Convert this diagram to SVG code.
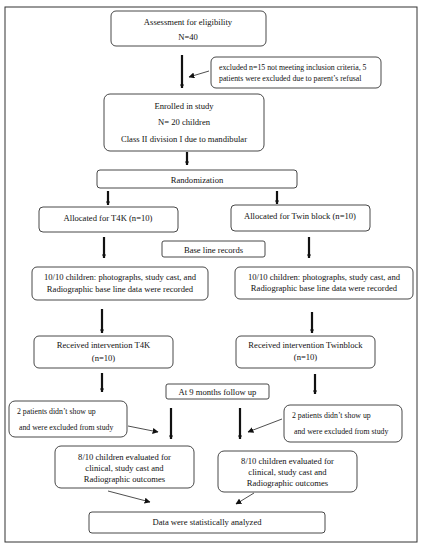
<svg xmlns="http://www.w3.org/2000/svg" width="424" height="550" viewBox="0 0 424 550">
<defs>
<marker id="ah" viewBox="0 0 10 10" refX="9" refY="5" markerWidth="6" markerHeight="6" orient="auto" markerUnits="userSpaceOnUse"><path d="M0,0 L10,5 L0,10 z" fill="#111"/></marker>
<marker id="ahs" viewBox="0 0 10 10" refX="9" refY="5" markerWidth="4" markerHeight="4" orient="auto" markerUnits="userSpaceOnUse"><path d="M0,0 L10,5 L0,10 z" fill="#111"/></marker>
</defs>
<style>
.b{fill:#fff;stroke:#333;stroke-width:0.9}
.t{font-family:"Liberation Serif","Times New Roman",serif;font-size:8.6px;fill:#111;text-anchor:middle}
.tl{font-family:"Liberation Serif","Times New Roman",serif;font-size:7.8px;fill:#111}
.v{stroke:#111;stroke-width:2.2;fill:none;marker-end:url(#ahs)}
.d{stroke:#222;stroke-width:0.8;fill:none;marker-end:url(#ah)}
</style>
<rect x="0" y="0" width="424" height="550" fill="#fff"/>
<rect x="5" y="7" width="412" height="535" fill="none" stroke="#333" stroke-width="1"/>
<g id="connectors">
<line class="v" x1="182" y1="55" x2="182" y2="88"/>
<line class="d" x1="209" y1="71" x2="189" y2="77"/>
<line class="v" x1="187" y1="152" x2="187" y2="165"/>
<line class="v" x1="108" y1="191" x2="108" y2="205"/>
<line class="v" x1="277" y1="191" x2="277" y2="204"/>
<line class="v" x1="104" y1="237" x2="104" y2="258"/>
<line class="v" x1="309" y1="237" x2="309" y2="258"/>
<line class="v" x1="102" y1="309" x2="102" y2="333"/>
<line class="v" x1="312" y1="312" x2="312" y2="333"/>
<line class="v" x1="102" y1="373" x2="102" y2="392"/>
<line class="v" x1="315" y1="374" x2="315" y2="394"/>
<line class="v" x1="171" y1="408" x2="171" y2="439"/>
<line class="v" x1="240" y1="408" x2="240" y2="439"/>
<line class="d" x1="128" y1="426" x2="158" y2="432"/>
<line class="d" x1="282" y1="419" x2="248" y2="432"/>
<line class="d" x1="108" y1="491" x2="150" y2="502"/>
<line class="d" x1="254" y1="493" x2="236" y2="504"/>
</g>
<g id="assessment"><rect class="b" x="111" y="11" width="155" height="35" rx="5"/><text class="t" x="188" y="24.5">Assessment for eligibility</text><text class="t" x="188" y="40">N=40</text></g>
<g id="excluded"><rect class="b" x="211" y="57" width="170" height="31" rx="5"/><text class="tl" x="219" y="70">excluded n=15 not meeting inclusion criteria, 5</text><text class="tl" x="219" y="80.5">patients were excluded due to parent’s refusal</text></g>
<g id="enrolled"><rect class="b" x="104" y="94" width="160" height="57" rx="6"/><text class="t" x="184" y="109">Enrolled in study</text><text class="t" x="184" y="125">N= 20 children</text><text class="t" x="184" y="141.5">Class II division I due to mandibular</text></g>
<g id="randomization"><rect class="b" x="97" y="170" width="200" height="18" rx="3"/><text class="t" x="197" y="182.5">Randomization</text></g>
<g id="alloc-t4k"><rect class="b" x="39" y="207" width="139" height="25" rx="4"/><text class="t" x="108" y="220.5">Allocated for T4K (n=10)</text></g>
<g id="alloc-twin"><rect class="b" x="231" y="205" width="139" height="26" rx="4"/><text class="t" x="300" y="218.5">Allocated for Twin block (n=10)</text></g>
<g id="baseline"><rect class="b" x="162" y="241" width="103" height="16" rx="2"/><text class="t" x="213.5" y="252.5">Base line records</text></g>
<g id="records-left"><rect class="b" x="32" y="267" width="176" height="33" rx="5"/><text class="t" x="120" y="280">10/10 children: photographs, study cast, and</text><text class="t" x="120" y="291.5">Radiographic base line data were recorded</text></g>
<g id="records-right"><rect class="b" x="235" y="267" width="178" height="32" rx="5"/><text class="t" x="324" y="279.5">10/10 children: photographs, study cast, and</text><text class="t" x="324" y="290.5">Radiographic base line data were recorded</text></g>
<g id="recv-t4k"><rect class="b" x="34" y="336" width="139" height="32" rx="5"/><text class="t" x="103.5" y="347.5">Received intervention T4K</text><text class="t" x="103.5" y="360.5">(n=10)</text></g>
<g id="recv-twin"><rect class="b" x="236" y="336" width="139" height="32" rx="5"/><text class="t" x="305.5" y="348">Received intervention Twinblock</text><text class="t" x="305.5" y="360">(n=10)</text></g>
<g id="followup"><rect class="b" x="166" y="384" width="103" height="15" rx="2"/><text class="t" x="217.5" y="395">At 9 months follow up</text></g>
<g id="drop-left"><rect class="b" x="9" y="401" width="118" height="36" rx="6"/><text class="tl" x="17" y="413.5">2 patients didn’t show up</text><text class="tl" x="19" y="429.5">and were excluded from study</text></g>
<g id="drop-right"><rect class="b" x="284" y="405" width="118" height="37" rx="6"/><text class="tl" x="292" y="417.5">2 patients didn’t show up</text><text class="tl" x="294" y="434">and were excluded from study</text></g>
<g id="eval-left"><rect class="b" x="55" y="446" width="139" height="42" rx="6"/><text class="t" x="124.5" y="460">8/10 children evaluated for</text><text class="t" x="124.5" y="471">clinical, study cast and</text><text class="t" x="124.5" y="482">Radiographic outcomes</text></g>
<g id="eval-right"><rect class="b" x="218" y="451" width="139" height="41" rx="6"/><text class="t" x="287.5" y="464">8/10 children evaluated for</text><text class="t" x="287.5" y="475">clinical, study cast and</text><text class="t" x="287.5" y="486">Radiographic outcomes</text></g>
<g id="analysis"><rect class="b" x="89" y="512" width="236" height="21" rx="3"/><text class="t" x="207" y="525">Data were statistically analyzed</text></g>
</svg>
